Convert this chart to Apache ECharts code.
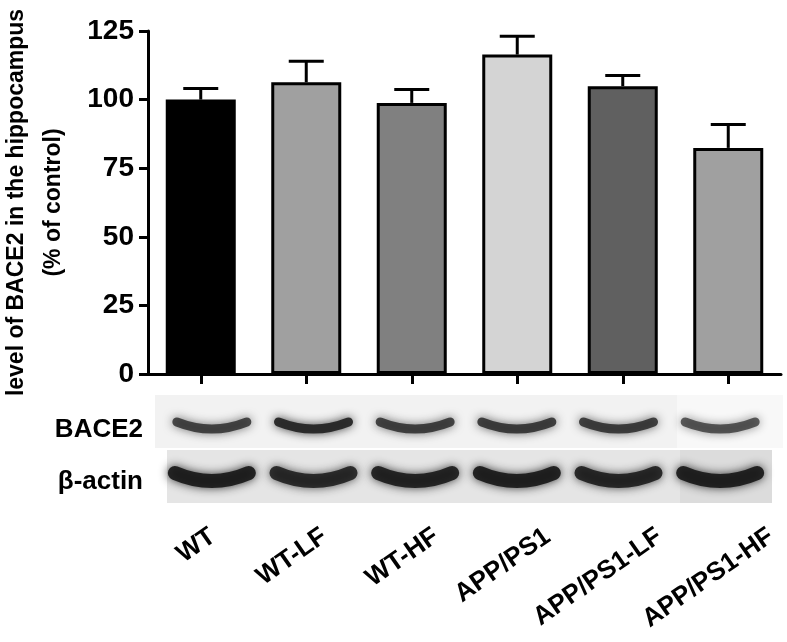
<!DOCTYPE html>
<html>
<head>
<meta charset="utf-8">
<script src="https://cdn.jsdelivr.net/npm/echarts@6/dist/echarts.min.js"></script>
<style>
  html, body { margin: 0; padding: 0; background: #ffffff; }
  #chart { width: 787px; height: 642px; }
</style>
</head>
<body>
<div id="chart"></div>
<script>
// ---- data ----
const categories = ['WT', 'WT-LF', 'WT-HF', 'APP/PS1', 'APP/PS1-LF', 'APP/PS1-HF'];
const means = [100, 106.3, 98.8, 116.4, 104.9, 82.4];
const sem = [4.0, 7.7, 4.9, 6.7, 3.9, 8.5];
const yTicks = [0, 25, 50, 75, 100, 125];
const barColors = ['#000000', '#a0a0a0', '#808080', '#d4d4d4', '#606060', '#a0a0a0'];
const bace2Shade = [0.78, 0.92, 0.8, 0.82, 0.82, 0.7];
const actinShade = [0.92, 0.85, 0.9, 0.92, 0.88, 0.92];
const yName = 'level of BACE2 in the hippocampus\n(% of control)';
const blotLabels = ['BACE2', 'β-actin'];

const FONT = '"Liberation Sans", Arial, Helvetica, sans-serif';

const chart = echarts.init(document.getElementById('chart'), null, { renderer: 'canvas' });

function errorItem(params, api) {
  const i = api.value(0);
  const m = api.value(1);
  const e = api.value(2);
  const p0 = api.coord([i, m]);
  const p1 = api.coord([i, m + e]);
  const half = 17.5;
  const st = { stroke: '#000', lineWidth: 3, fill: null };
  return {
    type: 'group',
    children: [
      { type: 'line', shape: { x1: p0[0], y1: p0[1], x2: p1[0], y2: p1[1] }, style: st },
      { type: 'line', shape: { x1: p1[0] - half, y1: p1[1], x2: p1[0] + half, y2: p1[1] }, style: st }
    ]
  };
}

function blotItem(params, api) {
  const i = api.value(0);
  const s1 = api.value(1);
  const s2 = api.value(2);
  const p = api.coord([i, 0]);
  const x = p[0], y0 = p[1];
  const hw = 35;
  const c1 = 'rgba(35,35,35,' + s1 + ')';
  const c2 = 'rgba(25,25,25,' + s2 + ')';
  return {
    type: 'group',
    children: [
      {
        type: 'bezierCurve',
        shape: { x1: x - hw, y1: y0 + 48, cpx1: x, cpy1: y0 + 62, x2: x + hw, y2: y0 + 48 },
        style: { fill: null, stroke: c1, lineWidth: 9, lineCap: 'round', shadowBlur: 10, shadowColor: c1 }
      },
      {
        type: 'bezierCurve',
        shape: { x1: x - hw - 2, y1: y0 + 99, cpx1: x, cpy1: y0 + 115, x2: x + hw + 2, y2: y0 + 99 },
        style: { fill: null, stroke: c2, lineWidth: 14, lineCap: 'round', shadowBlur: 10, shadowColor: c2 }
      }
    ]
  };
}

const option = {
  backgroundColor: '#ffffff',
  animation: false,
  graphic: [
    { type: 'rect', z: 0, shape: { x: 155, y: 395, width: 628, height: 53 }, style: { fill: '#f2f2f2' } },
    { type: 'rect', z: 0, shape: { x: 677, y: 395, width: 106, height: 53 }, style: { fill: '#f8f8f8' } },
    { type: 'rect', z: 0, shape: { x: 167, y: 450, width: 605, height: 53 }, style: { fill: '#e5e5e5' } },
    { type: 'rect', z: 0, shape: { x: 680, y: 450, width: 92, height: 53 }, style: { fill: '#dcdcdc' } },
    {
      type: 'text', z: 10, x: 143, y: 430,
      style: { text: blotLabels[0], align: 'right', verticalAlign: 'middle', textAlign: 'right', textVerticalAlign: 'middle',
               fontSize: 26, fontWeight: 'bold', fontFamily: FONT, fill: '#000' }
    },
    {
      type: 'text', z: 10, x: 143, y: 482,
      style: { text: blotLabels[1], align: 'right', verticalAlign: 'middle', textAlign: 'right', textVerticalAlign: 'middle',
               fontSize: 26, fontWeight: 'bold', fontFamily: FONT, fill: '#000' }
    }
  ],
  grid: [
    { left: 148, width: 633, top: 31, height: 343, containLabel: false, outerBoundsMode: 'none' },
    { left: 157, width: 670, top: 31, height: 343, containLabel: false, outerBoundsMode: 'none' },
    { left: 161, width: 610, top: 31, height: 343, containLabel: false, outerBoundsMode: 'none' }
  ],
  xAxis: [
    {
      type: 'category', gridIndex: 0, data: categories, boundaryGap: true,
      axisLine: { show: true, lineStyle: { color: '#000', width: 3 } },
      axisTick: { show: true, alignWithLabel: true, length: 10, lineStyle: { color: '#000', width: 3 } },
      axisLabel: { show: false },
      splitLine: { show: false }
    },
    {
      type: 'category', gridIndex: 1, data: categories, boundaryGap: true,
      axisLine: { show: false }, axisTick: { show: false }, splitLine: { show: false },
      axisLabel: {
        show: true, interval: 0, rotate: 35, margin: 160,
        fontSize: 26, fontWeight: 'bold', fontFamily: FONT, color: '#000'
      }
    },
    {
      type: 'category', gridIndex: 2, data: categories, boundaryGap: true, show: false
    }
  ],
  yAxis: [
    {
      type: 'value', gridIndex: 0,
      min: yTicks[0], max: yTicks[yTicks.length - 1], interval: yTicks[1] - yTicks[0],
      name: yName, nameLocation: 'middle', nameRotate: 90, nameGap: 76,
      nameTextStyle: { fontSize: 23, fontWeight: 'bold', fontFamily: FONT, color: '#000', lineHeight: 37 },
      axisLine: { show: true, lineStyle: { color: '#000', width: 3 } },
      axisTick: { show: true, length: 9, lineStyle: { color: '#000', width: 3 } },
      axisLabel: { margin: 14, fontSize: 28, fontWeight: 'bold', fontFamily: FONT, color: '#000' },
      splitLine: { show: false }
    },
    { type: 'value', gridIndex: 1, min: 0, max: 1, show: false },
    { type: 'value', gridIndex: 2, min: 0, max: 1, show: false }
  ],
  series: [
    {
      type: 'bar', xAxisIndex: 0, yAxisIndex: 0, barWidth: 70, z: 2,
      data: means.map((m, i) => ({ value: m, itemStyle: { color: barColors[i] } })),
      itemStyle: { borderColor: '#000', borderWidth: 3 }
    },
    {
      type: 'custom', xAxisIndex: 0, yAxisIndex: 0, z: 3, silent: true, clip: false,
      renderItem: errorItem,
      encode: { x: 0, y: 1 },
      data: means.map((m, i) => [i, m, sem[i]])
    },
    {
      type: 'custom', xAxisIndex: 2, yAxisIndex: 2, z: 5, silent: true, clip: false,
      renderItem: blotItem,
      encode: { x: 0, y: 1 },
      data: categories.map((c, i) => [i, bace2Shade[i], actinShade[i]])
    }
  ]
};

chart.setOption(option);
</script>
</body>
</html>
